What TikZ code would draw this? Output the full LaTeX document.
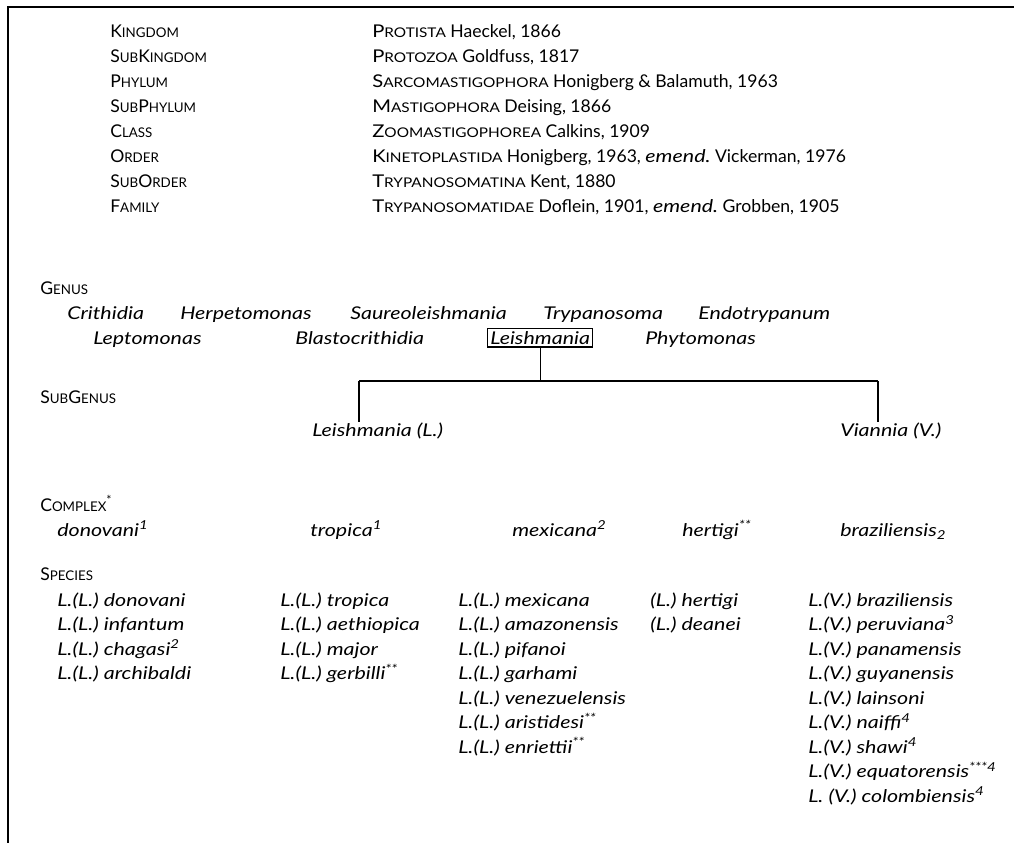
\documentclass[tikz,border=0pt]{standalone}
\usepackage{fontspec}
\setmainfont{Lato}[ItalicFeatures={FakeStretch=1.22}]
\newfontfamily\widesc[FakeStretch=1.15]{Lato}
\usetikzlibrary{positioning}
\newcommand{\fsc}[2]{#1{\fontsize{9.5}{10}\selectfont #2}}
\newcommand{\tsc}[2]{{\widesc #1{\fontsize{9.5}{10}\selectfont #2}}}
\frenchspacing
\tikzset{
  rankname/.style={anchor=base west, inner sep=0pt, font=\fontsize{12.5}{15}\selectfont},
  genusname/.style={anchor=base west, inner sep=0pt, font=\fontsize{12.5}{15}\selectfont\itshape},
  genusbox/.style={genusname, draw, line width=0.8pt, inner sep=2pt},
  branch/.style={line width=0.9pt}
}

\begin{document}
\begin{tikzpicture}[x=0.025cm, y=-0.025cm]
  \useasboundingbox (0,0) rectangle (1014,843);

  % frame
  \draw[line width=1.3pt] (1014,7) -- (8,7) -- (8,843);

  % ranks down to family
  \foreach \rank/\taxon [count=\i] in {%
    {\fsc{K}{INGDOM}}/{\tsc{P}{ROTISTA} Haeckel, 1866},
    {\fsc{S}{UB}\fsc{K}{INGDOM}}/{\tsc{P}{ROTOZOA} Goldfuss, 1817},
    {\fsc{P}{HYLUM}}/{\tsc{S}{ARCOMASTIGOPHORA} Honigberg \& Balamuth, 1963},
    {\fsc{S}{UB}\fsc{P}{HYLUM}}/{\tsc{M}{ASTIGOPHORA} Deising, 1866},
    {\fsc{C}{LASS}}/{\tsc{Z}{OOMASTIGOPHOREA} Calkins, 1909},
    {\fsc{O}{RDER}}/{\tsc{K}{INETOPLASTIDA} Honigberg, 1963, \textit{emend.} Vickerman, 1976},
    {\fsc{S}{UB}\fsc{O}{RDER}}/{\tsc{T}{RYPANOSOMATINA} Kent, 1880},
    {\fsc{F}{AMILY}}/{\tsc{T}{RYPANOSOMATIDAE} Doflein, 1901, \textit{emend.} Grobben, 1905}}{%
    \node[rankname] (rank\i) at (110,{11.9+25.1*\i}) {\rank};
    \node[rankname] (taxon\i) at (372,{11.9+25.1*\i}) {\taxon};
  }

  % genus
  \node[rankname] (GenusLabel) at (40,294) {\fsc{G}{ENUS}};
  \foreach \gname/\gx in {Crithidia/67, Herpetomonas/180, Saureoleishmania/350,
                          Trypanosoma/543, Endotrypanum/698}{%
    \node[genusname] (\gname) at (\gx,319) {\gname};
  }
  \foreach \gname/\gx in {Leptomonas/93, Blastocrithidia/295, Phytomonas/645}{%
    \node[genusname] (\gname) at (\gx,344) {\gname};
  }
  \node[genusbox] (Leishmania) at (487,344) {Leishmania};

  % subgenus
  \node[rankname] (SubGenusLabel) at (40,403) {\fsc{S}{UB}\fsc{G}{ENUS}};
  \node[genusname] (SubL) at (312,436) {Leishmania (L.)};
  \node[genusname] (SubV) at (840,436) {Viannia (V.)};

  \coordinate (ForkL) at (359,381);
  \coordinate (ForkR) at (878,381);
  \coordinate (Fork) at (Leishmania.south |- ForkL);
  \draw[branch] (Leishmania.south) -- (Fork);
  \draw[branch] (ForkL) -- (ForkR);
  \draw[branch] (ForkL) -- (ForkL |- SubL.north);
  \draw[branch] (ForkR) -- (ForkR |- SubV.north);

  % complex
  \node[rankname] (ComplexLabel) at (40,511) {\fsc{C}{OMPLEX}\textsuperscript{*}};
  \foreach \cname/\cx [count=\c] in {donovani\textsuperscript{1}/57, tropica\textsuperscript{1}/310,
      mexicana\textsuperscript{2}/512, hertigi\textsuperscript{**}/682,
      braziliensis\textsubscript{2}/840}{%
    \node[genusname] (cplx\c) at (\cx,536) {\cname};
  }

  % species
  \node[rankname] (SpeciesLabel) at (40,580) {\fsc{S}{PECIES}};
  \foreach \sp [count=\j] in {L.(L.) donovani, L.(L.) infantum,
      L.(L.) chagasi\textsuperscript{2}, L.(L.) archibaldi}{%
    \node[genusname] (spA\j) at (57,{581.5+24.5*\j}) {\sp};
  }
  \foreach \sp [count=\j] in {L.(L.) tropica, L.(L.) aethiopica,
      L.(L.) major, L.(L.) gerbilli\textsuperscript{**}}{%
    \node[genusname] (spB\j) at (280,{581.5+24.5*\j}) {\sp};
  }
  \foreach \sp [count=\j] in {L.(L.) mexicana, L.(L.) amazonensis, L.(L.) pifanoi,
      L.(L.) garhami, L.(L.) venezuelensis, L.(L.) aristidesi\textsuperscript{**},
      L.(L.) enriettii\textsuperscript{**}}{%
    \node[genusname] (spC\j) at (458,{581.5+24.5*\j}) {\sp};
  }
  \foreach \sp [count=\j] in {(L.) hertigi, (L.) deanei}{%
    \node[genusname] (spD\j) at (650,{581.5+24.5*\j}) {\sp};
  }
  \foreach \sp [count=\j] in {L.(V.) braziliensis, L.(V.) peruviana\textsuperscript{3},
      L.(V.) panamensis, L.(V.) guyanensis, L.(V.) lainsoni,
      L.(V.) naiffi\textsuperscript{4}, L.(V.) shawi\textsuperscript{4},
      L.(V.) equatorensis\textsuperscript{***4}, L. (V.) colombiensis\textsuperscript{4}}{%
    \node[genusname] (spE\j) at (808,{581.5+24.5*\j}) {\sp};
  }
\end{tikzpicture}
\end{document}
